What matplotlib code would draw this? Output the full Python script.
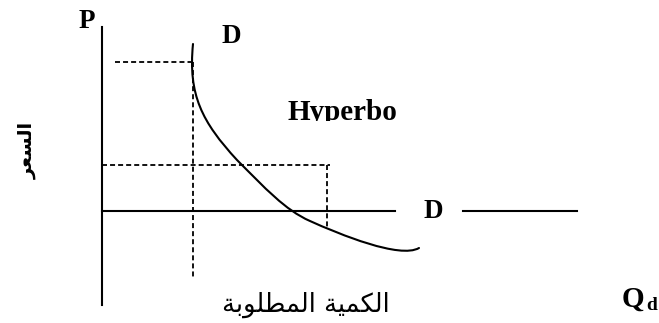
import matplotlib
matplotlib.use("Agg")
import matplotlib.pyplot as plt
from matplotlib.path import Path
from matplotlib.patches import PathPatch
from matplotlib.transforms import Bbox, TransformedBbox

# ---- data (in picture units: x right, y down) ----
# demand curve as cubic Bezier segments: start, then (ctrl1, ctrl2, end) triples
curve_q = [193, 188, 202, 237, 265, 285, 310, 340, 400, 419]
curve_p = [44, 95, 122, 160, 188, 210, 221, 234.5, 259, 248]

axis_origin_x = 102
axis_top = 27
axis_bottom = 305
flat_demand_y = 211
flat_demand_segments = [(102, 395), (463, 577)]

high_price = 62
high_price_q = 193
low_price = 165
low_price_q = 327
high_drop_bottom = 277
low_drop_bottom = 229
high_dash_left = 115

label_p = "P"
label_d = "D"
label_hyper = "Hyperbo"
label_q = "Q"
label_q_sub = "d"
ylabel_ar = "السعر"
xlabel_ar = "الكمية المطلوبة"

# ---- minimal Arabic shaping (matplotlib has no complex text layout) ----
FORMS = {
    'ا': (0xFE8D, 0xFE8E, None, None),
    'ل': (0xFEDD, 0xFEDE, 0xFEDF, 0xFEE0),
    'ك': (0xFED9, 0xFEDA, 0xFEDB, 0xFEDC),
    'م': (0xFEE1, 0xFEE2, 0xFEE3, 0xFEE4),
    'ي': (0xFEF1, 0xFEF2, 0xFEF3, 0xFEF4),
    'ة': (0xFE93, 0xFE94, None, None),
    'ط': (0xFEC1, 0xFEC2, 0xFEC3, 0xFEC4),
    'و': (0xFEED, 0xFEEE, None, None),
    'ب': (0xFE8F, 0xFE90, 0xFE91, 0xFE92),
    'س': (0xFEB1, 0xFEB2, 0xFEB3, 0xFEB4),
    'ع': (0xFEC9, 0xFECA, 0xFECB, 0xFECC),
    'ر': (0xFEAD, 0xFEAE, None, None),
}


def shape(s):
    out = []
    for i, c in enumerate(s):
        if c not in FORMS:
            out.append(c)
            continue
        f = FORMS[c]
        prev = s[i - 1] if i > 0 else None
        nxt = s[i + 1] if i + 1 < len(s) else None
        cp = prev in FORMS and FORMS[prev][2] is not None
        cn = f[2] is not None and nxt in FORMS
        if cp and cn:
            g = f[3]
        elif cp:
            g = f[1]
        elif cn:
            g = f[2]
        else:
            g = f[0]
        out.append(chr(g))
    return "".join(reversed(out))


plt.rcParams['lines.scale_dashes'] = False
W, H = 659, 323
fig = plt.figure(figsize=(W / 100, H / 100), dpi=100)
ax = fig.add_axes([0, 0, 1, 1])
ax.set_xlim(0, W)
ax.set_ylim(H, 0)
ax.axis('off')

lw = 1.5
dlw = 1.3
dash = (0, (3.6, 2.2))
# axes
ax.plot([axis_origin_x, axis_origin_x], [axis_top, axis_bottom], color='black', lw=lw)
for a, b in flat_demand_segments:
    ax.plot([a, b], [flat_demand_y, flat_demand_y], color='black', lw=lw)

# dashed guides
ax.plot([high_dash_left, high_price_q - 2], [high_price, high_price], color='black', lw=dlw, ls=dash)
ax.plot([high_price_q, high_price_q], [high_price, high_drop_bottom], color='black', lw=dlw, ls=dash)
ax.plot([axis_origin_x, low_price_q + 3], [low_price, low_price], color='black', lw=dlw, ls=dash)
ax.plot([low_price_q, low_price_q], [low_price, low_drop_bottom], color='black', lw=dlw, ls=dash)

# hyperbolic demand curve (smooth Bezier through the read control points)
verts = list(zip(curve_q, curve_p))
codes = [Path.MOVETO] + [Path.CURVE4] * (len(verts) - 1)
ax.add_patch(PathPatch(Path(verts, codes), facecolor='none', edgecolor='black',
                       lw=lw, capstyle='round', joinstyle='round'))

serif = dict(family='Liberation Serif', weight='bold', color='black')
ax.text(87, 28, label_p, fontsize=19.5, ha='center', va='baseline', **serif)
ax.text(231, 43, label_d, fontsize=19.5, ha='center', va='baseline', **serif)
ax.text(433, 218, label_d, fontsize=19.5, ha='center', va='baseline', **serif)
t = ax.text(287, 120, label_hyper, fontsize=21, ha='left', va='baseline', **serif)
t.set_clip_box(TransformedBbox(Bbox([[0, 0], [W, 121]]), ax.transData))
t.set_clip_on(True)
ax.text(622, 307, label_q, fontsize=21, ha='left', va='baseline', **serif)
ax.text(646, 310, label_q_sub, fontsize=14, ha='left', va='baseline', **serif)

ax.text(306, 312, shape(xlabel_ar), fontsize=18.5, ha='center', va='baseline',
        family=['DejaVu Sans'], color='black')
ax.text(27, 150, shape(ylabel_ar), fontsize=14, ha='center', va='center',
        rotation=90, family=['DejaVu Sans'], weight='bold', color='black')

fig.savefig('out.png', dpi=100)
